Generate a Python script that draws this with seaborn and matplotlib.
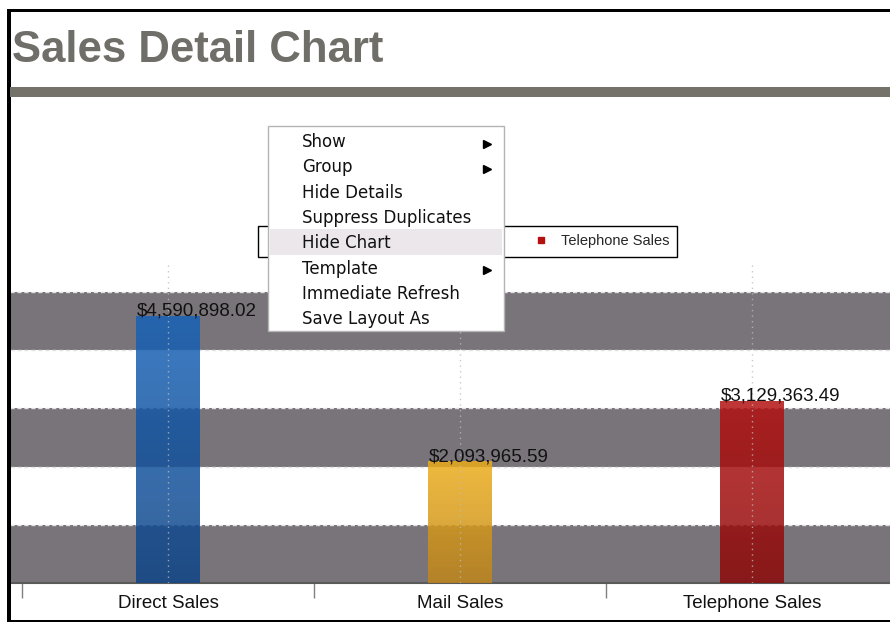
import numpy as np
import pandas as pd
import matplotlib
matplotlib.use("Agg")
import matplotlib.pyplot as plt
from matplotlib.patches import Rectangle
from matplotlib.lines import Line2D
import seaborn as sns

# ---- data -------------------------------------------------------------
channels = ["Direct Sales", "Mail Sales", "Telephone Sales"]
sales = [4590898.02, 2093965.59, 3129363.49]

menu_items = ["Show", "Group", "Hide Details", "Suppress Duplicates",
              "Hide Chart", "Template", "Immediate Refresh", "Save Layout As"]
submenu_items = ["Show", "Group", "Template"]
highlighted_item = "Hide Chart"
legend_visible = ["Telephone Sales"]   # the other entries sit under the menu

# ---- styling ----------------------------------------------------------
top_colors = [(22, 98, 184), (236, 172, 24), (180, 16, 16)]
bottom_colors = [(14, 68, 134), (192, 134, 26), (140, 8, 8)]
bar_alpha = 0.84
band_color = "#79737a"

W, H = 890, 623
sns.set_theme(style="white")
plt.rcParams["font.family"] = ["Liberation Sans", "DejaVu Sans"]

fig = plt.figure(figsize=(W / 100, H / 100), dpi=100)
fig.patch.set_facecolor("white")


def fx(px):
    return px / W


def fy(py):
    return 1 - py / H


def frect(x0, y0, x1, y1, **kw):
    """Rectangle given in pixel coordinates (y measured from the top)."""
    r = Rectangle((fx(x0), fy(y1)), (x1 - x0) / W, (y1 - y0) / H,
                  transform=fig.transFigure, **kw)
    fig.add_artist(r)
    return r


# page frame
frect(7, 9, 11, 622, color="black", lw=0)
frect(7, 9, W, 12, color="black", lw=0)
frect(7, 619.5, W, 622, color="black", lw=0)

# header
fig.text(fx(12), fy(62), "Sales Detail Chart", ha="left", va="baseline",
         fontsize=31.5, weight="bold", color="#6f6e68")
frect(10, 87, W, 97, color="#747269", lw=0)

# ---- chart ------------------------------------------------------------
ax = fig.add_axes([fx(10), fy(583), 880 / W, 320 / H])
df = pd.DataFrame({"channel": channels, "sales": sales})
hex_top = ["#%02x%02x%02x" % c for c in top_colors]
sns.barplot(data=df, x="channel", y="sales", hue="channel", palette=hex_top,
            width=0.216, legend=False, ax=ax, zorder=3)
bars = list(ax.patches)

# vertical gradient fill for each bar, clipped to the bar outline
for patch, c_top, c_bot in zip(bars, top_colors, bottom_colors):
    x, w, h = patch.get_x(), patch.get_width(), patch.get_height()
    t = np.linspace(0, 1, 256)[:, None]
    rgb = (np.array(c_bot)[None, :] * (1 - t) + np.array(c_top)[None, :] * t) / 255
    rgba = np.concatenate([rgb, np.full((256, 1), bar_alpha)], axis=1)[:, None, :]
    im = ax.imshow(rgba, extent=[x, x + w, 0, h], origin="lower",
                   aspect="auto", zorder=3, interpolation="bilinear")
    im.set_clip_path(patch)
    patch.set_facecolor("none")
    patch.set_edgecolor("none")

# alternating bands and dashed grid lines
step = 1_000_000
grid_vals = np.arange(step, 5.5 * step, step)
for k, lo in enumerate(np.arange(0, 5 * step, step)):
    if k % 2 == 0:
        ax.axhspan(lo, lo + step, color=band_color, lw=0, zorder=0)
for v in grid_vals:
    ax.axhline(v, color="#e2e2e2", ls=(0, (3, 2)), lw=1, zorder=1)

# dotted category guides
for i in range(len(channels)):
    ax.axvline(i, color="#bdbdbd", ls=(0, (1, 3)), lw=1, zorder=4, alpha=0.8)

# value labels sitting on the bars
for patch, v in zip(bars, sales):
    ax.text(patch.get_x(), v, f"${v:,.2f}", ha="left", va="baseline",
            fontsize=13.5, color="#111111", zorder=6)

ax.set_xlabel("")
ax.set_ylabel("")
ax.set_yticks([])
for side in ("left", "right", "top"):
    ax.spines[side].set_visible(False)
ax.spines["bottom"].set_color("#5a5a5a")
ax.spines["bottom"].set_linewidth(1.5)
ax.set_xticks(np.arange(len(channels) + 1) - 0.5, minor=True)
ax.tick_params(axis="x", which="major", length=0, pad=9, labelsize=13.5,
               labelcolor="#111111")
ax.tick_params(axis="x", which="minor", length=10.5, width=1, color="#808080",
               direction="out", bottom=True)
# limits last so the tick setup cannot widen them
ax.set_ylim(0, 5.5 * step)
ax.set_xlim(-0.541, 2.473)

# legend box (entries to the left are covered by the menu)
frect(258, 226, 677, 257, facecolor="white", edgecolor="black", lw=1, zorder=4)
vis = [channels.index(n) for n in legend_visible]
handles = [Line2D([], [], marker="s", ls="", color=hex_top[i], markersize=5)
           for i in vis]
leg = fig.legend(handles, [channels[i] for i in vis], loc="center right",
                 bbox_to_anchor=(fx(258), fy(257), 419 / W, 31 / H),
                 frameon=False, fontsize=10.5, borderaxespad=0,
                 borderpad=0.5, handletextpad=0.4)
leg.set_zorder(5)

# ---- context menu -------------------------------------------------------
frect(268, 126, 504, 331, facecolor="white", edgecolor="#b4b4b4", lw=1,
      zorder=10)
row_h = 25.3
for i, item in enumerate(menu_items):
    base = 147 + row_h * i
    if item == highlighted_item:
        frect(270, base - 19, 502, base + 6.5, color="#ece7eb", lw=0, zorder=11)
    fig.text(fx(302), fy(base), item, family="DejaVu Sans", fontsize=12,
             color="#111111", ha="left", va="baseline", zorder=12)
    if item in submenu_items:
        fig.add_artist(Line2D([fx(487)], [fy(base - 3)], marker=">",
                              color="black", markersize=5.5, ls="",
                              transform=fig.transFigure, zorder=12))

fig.savefig("out.png", dpi=100)
